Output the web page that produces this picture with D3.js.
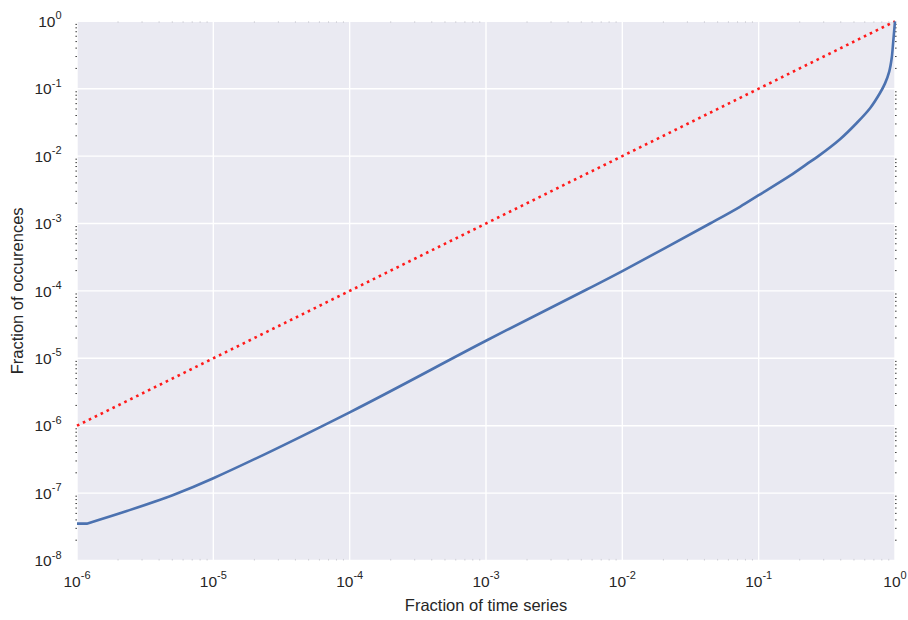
<!DOCTYPE html>
<html>
<head>
<meta charset="utf-8">
<script src="https://cdn.jsdelivr.net/npm/d3@7"></script>
<style>
  html, body { margin: 0; padding: 0; background: #ffffff; }
  svg { display: block; font-family: "Liberation Sans", Arial, sans-serif; }
</style>
</head>
<body>
<svg id="chart" width="908" height="620"></svg>
<script>
// Cumulative curve: fraction of time series vs fraction of occurences
const fractionSeries = [
  1e-6, 1.18e-6, 2.32e-6, 5.08e-6, 1e-5, 1e-4, 1e-3, 5.48e-3, 1e-2,
  4.40e-2, 7.29e-2, 0.1, 0.170, 0.225, 0.274, 0.395, 0.524, 0.656,
  0.776, 0.845, 0.908, 0.946, 0.971, 1.0
];
const fractionOccurrences = [
  3.52e-8, 3.52e-8, 5.42e-8, 9.38e-8, 1.66e-7, 1.58e-6, 1.82e-5, 1.05e-4, 1.97e-4,
  1e-3, 1.77e-3, 2.63e-3, 5.13e-3, 7.59e-3, 1e-2, 1.78e-2, 3.10e-2, 5.13e-2,
  8.63e-2, 0.120, 0.181, 0.285, 0.505, 1.0
];
// Reference diagonal y = x
const diagonalX = [1e-6, 1];
const diagonalY = [1e-6, 1];

const xTickExponents = [-6, -5, -4, -3, -2, -1, 0];
const yTickExponents = [-8, -7, -6, -5, -4, -3, -2, -1, 0];

const svg = d3.select("#chart");
const plotLeft = 77, plotRight = 895, plotTop = 21.3, plotBottom = 560.5;

const x = d3.scaleLog().domain([1e-6, 1]).range([plotLeft, plotRight]);
const y = d3.scaleLog().domain([1e-8, 1]).range([plotBottom, plotTop]);

// plot background
svg.append("rect")
  .attr("x", plotLeft).attr("y", plotTop)
  .attr("width", plotRight - plotLeft).attr("height", plotBottom - plotTop)
  .attr("fill", "#eaeaf2");

// grid lines at each decade
const grid = svg.append("g").attr("stroke", "#ffffff").attr("stroke-width", 1.4);
grid.selectAll("line.gx").data(xTickExponents).join("line")
  .attr("x1", d => x(Math.pow(10, d))).attr("x2", d => x(Math.pow(10, d)))
  .attr("y1", plotTop).attr("y2", plotBottom);
grid.selectAll("line.gy").data(yTickExponents).join("line")
  .attr("y1", d => y(Math.pow(10, d))).attr("y2", d => y(Math.pow(10, d)))
  .attr("x1", plotLeft).attr("x2", plotRight);

// minor ticks between decades
function minorValues(exps) {
  const out = [];
  for (let i = 0; i < exps.length - 1; i++)
    for (let k = 2; k <= 9; k++) out.push(k * Math.pow(10, exps[i]));
  return out;
}
const yMinor = minorValues(yTickExponents);
const xMinor = minorValues(xTickExponents);
const ticks = svg.append("g").attr("stroke", "#262626").attr("stroke-width", 1).attr("opacity", 0.85);
ticks.selectAll("line.yl").data(yMinor).join("line")
  .attr("x1", plotLeft - 1.6).attr("x2", plotLeft)
  .attr("y1", d => y(d)).attr("y2", d => y(d));
ticks.selectAll("line.yr").data(yMinor).join("line")
  .attr("x1", plotRight).attr("x2", plotRight + 1.6)
  .attr("y1", d => y(d)).attr("y2", d => y(d));
const lightTicks = svg.append("g").attr("stroke", "#cfcfd6").attr("stroke-width", 1);
lightTicks.selectAll("line.xb").data(xMinor).join("line")
  .attr("x1", d => x(d)).attr("x2", d => x(d))
  .attr("y1", plotBottom - 1.6).attr("y2", plotBottom);
lightTicks.selectAll("line.xt").data(xMinor).join("line")
  .attr("x1", d => x(d)).attr("x2", d => x(d))
  .attr("y1", plotTop).attr("y2", plotTop + 1.6);

// diagonal reference (red dotted)
const diag = diagonalX.map((v, i) => [v, diagonalY[i]]);
svg.append("path")
  .datum(diag)
  .attr("d", d3.line().x(d => x(d[0])).y(d => y(d[1])))
  .attr("fill", "none")
  .attr("stroke", "#ff1a1a")
  .attr("stroke-width", 2.6)
  .attr("stroke-dasharray", "2.6,4.0");

// measured curve: flat opening segment drawn straight, the rest smoothed
const curve = fractionSeries.map((v, i) => [v, fractionOccurrences[i]]);
const head = curve.slice(0, 2);
const tail = curve.slice(1);
const linePath = d3.line().x(d => x(d[0])).y(d => y(d[1]));
const smoothPath = d3.line().x(d => x(d[0])).y(d => y(d[1])).curve(d3.curveCatmullRom.alpha(0.5));
svg.append("path")
  .attr("d", linePath(head) + smoothPath(tail).replace(/^M/, "L"))
  .attr("fill", "none")
  .attr("stroke", "#4c72b0")
  .attr("stroke-width", 2.6)
  .attr("stroke-linejoin", "round");

// tick labels with superscript exponents
const txt = "#262626";
const yLab = svg.append("g").attr("fill", txt);
yTickExponents.forEach(e => {
  const t = yLab.append("text")
    .attr("x", 61.5).attr("y", y(Math.pow(10, e)) + 5.6)
    .attr("text-anchor", "end")
    .attr("font-size", 15.5);
  t.append("tspan").text("10");
  t.append("tspan").attr("dy", -7.6).attr("font-size", 11).text(String(e));
});
const xLab = svg.append("g").attr("fill", txt);
xTickExponents.forEach(e => {
  const t = xLab.append("text")
    .attr("x", x(Math.pow(10, e))).attr("y", 586.5)
    .attr("text-anchor", "middle")
    .attr("font-size", 15.5);
  t.append("tspan").text("10");
  t.append("tspan").attr("dy", -7.6).attr("font-size", 11).text(String(e));
});

// axis titles
svg.append("text")
  .attr("x", (plotLeft + plotRight) / 2).attr("y", 610.5)
  .attr("text-anchor", "middle")
  .attr("font-size", 16.5).attr("fill", txt)
  .text("Fraction of time series");
svg.append("text")
  .attr("transform", `translate(22.5,${(plotTop + plotBottom) / 2}) rotate(-90)`)
  .attr("text-anchor", "middle")
  .attr("font-size", 16.5).attr("fill", txt)
  .text("Fraction of occurences");
</script>
</body>
</html>
